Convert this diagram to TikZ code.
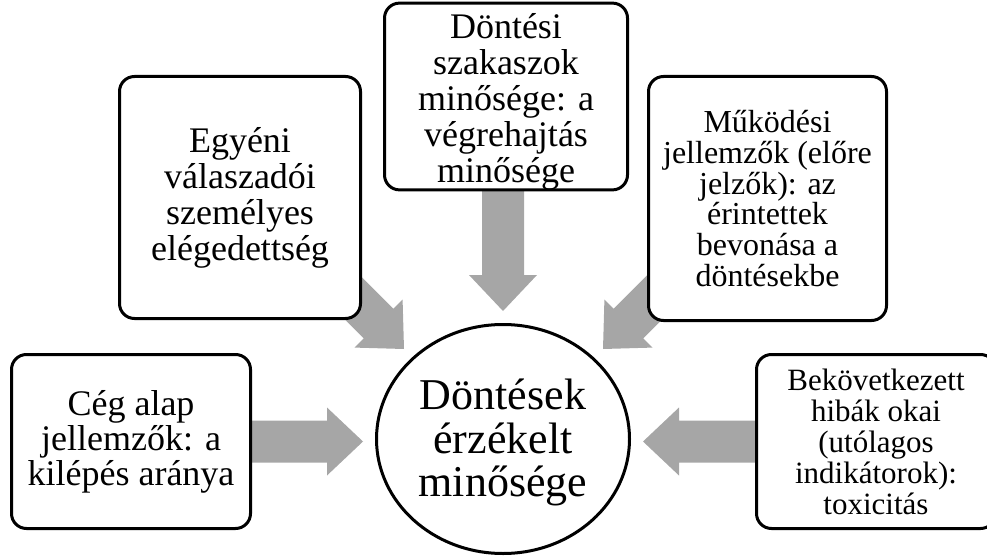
\documentclass[tikz,border=0pt]{standalone}
\usepackage{fontspec}
\setmainfont{Liberation Serif}
\usetikzlibrary{calc,shapes.geometric}
\definecolor{arrowgray}{RGB}{166,166,166}
\pgfdeclarelayer{background}
\pgfsetlayers{background,main}

% Block arrow from #2 to #3 (tip at #3); #1 names the head base point
\newcommand\flowarrow[3]{%
  \coordinate (#1h) at ($(#3)!36pt!(#2)$);
  \fill[arrowgray]
    ($(#2)!21pt!90:(#3)$) -- ($(#1h)!21pt!-90:(#2)$) -- ($(#1h)!34pt!-90:(#2)$)
    -- (#3)
    -- ($(#1h)!34pt!90:(#2)$) -- ($(#1h)!21pt!90:(#2)$) -- ($(#2)!21pt!-90:(#3)$) -- cycle;}

\begin{document}
\begin{tikzpicture}[x=1pt,y=-1pt,
  box/.style={draw=black, line width=3pt, fill=white, rounded corners=15pt,
    align=center, inner sep=0pt},
  hub/.style={ellipse, draw=black, line width=3pt, fill=white, align=center,
    inner sep=0pt, minimum width=253pt, minimum height=229pt}]
\useasboundingbox (0,0) rectangle (987,556);
\clip (0,0) rectangle (987,556);

% central ellipse
\node[hub, font={\fontsize{44}{43.5}\selectfont}] (quality) at (503,439)
  {\rule{0pt}{38pt}Döntések\\érzékelt\\minősége};

% surrounding boxes
\node[box, font={\fontsize{36}{35}\selectfont},
  minimum width=239pt, minimum height=174pt] (cega) at (131,441.5)
  {Cég alap\\jellemzők: a\\kilépés aránya};
\node[box, font={\fontsize{36}{36}\selectfont},
  minimum width=241pt, minimum height=242pt] (egyeni) at (240,197.5)
  {Egyéni\\válaszadói\\személyes\\elégedettség};
\node[box, font={\fontsize{36}{36}\selectfont},
  minimum width=243pt, minimum height=174pt] (dontesi) at (506,96.5)
  {\rule{0pt}{35pt}Döntési\\szakaszok\\minősége: a\\végrehajtás\\minősége};
\node[box, font={\fontsize{32}{30.7}\selectfont},
  minimum width=238pt, minimum height=244pt] (mukodesi) at (767.5,198.5)
  {Működési\\jellemzők (előre\\jelzők): az\\érintettek\\bevonása a\\döntésekbe};
\node[box, font={\fontsize{31}{31}\selectfont},
  minimum width=239pt, minimum height=174pt] (bekov) at (876,441.5)
  {Bekövetkezett\\hibák okai\\(utólagos\\indikátorok):\\toxicitás};

% arrow ends
\coordinate (tipW) at (363,441.5);
\coordinate (tipNW) at (404,349);
\coordinate (tailNW) at (260,205);
\coordinate (tipN) at (503,311);
\coordinate (tailN) at (503,150);
\coordinate (tipNE) at (603,349);
\coordinate (tailNE) at (747,205);
\coordinate (tipE) at (643,441.5);

\begin{pgfonlayer}{background}
  \flowarrow{aw}{cega.east}{tipW}
  \flowarrow{anw}{tailNW}{tipNW}
  \flowarrow{an}{tailN}{tipN}
  \flowarrow{ane}{tailNE}{tipNE}
  \flowarrow{ae}{bekov.west}{tipE}
\end{pgfonlayer}
\end{tikzpicture}
\end{document}
